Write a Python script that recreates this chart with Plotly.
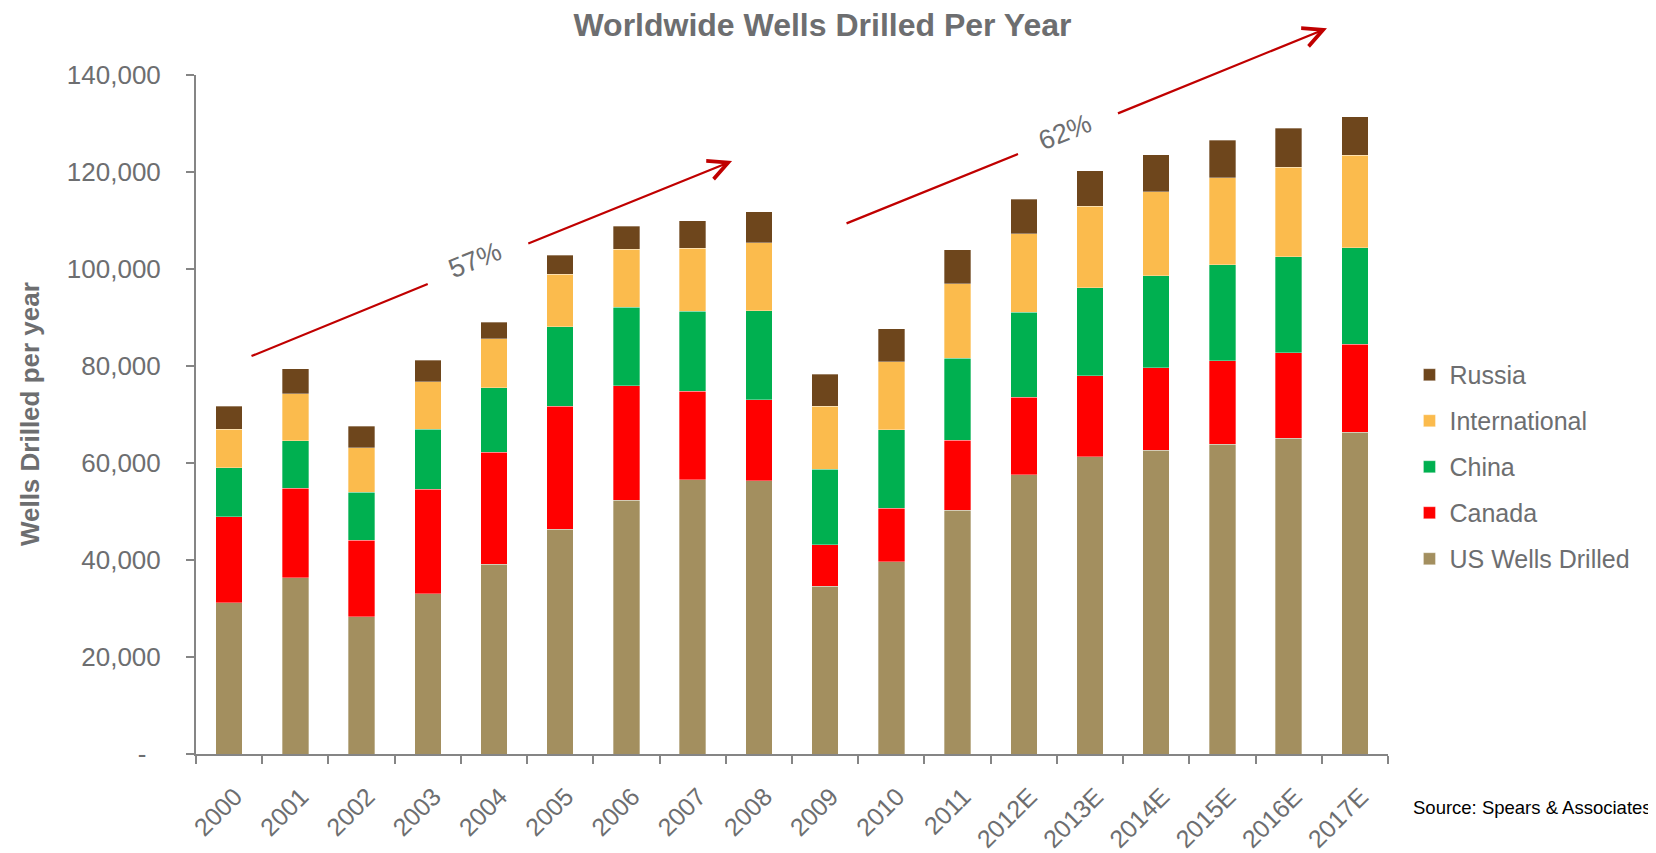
import plotly.graph_objects as go

# values (wells per year)
YEARS = ['2000', '2001', '2002', '2003', '2004', '2005', '2006', '2007', '2008',
         '2009', '2010', '2011', '2012E', '2013E', '2014E', '2015E', '2016E', '2017E']
US_WELLS = [31200, 36290, 28250, 33000, 39110, 46330, 52370, 56500, 56290,
            34640, 39590, 50310, 57590, 61240, 62620, 63860, 65150, 66390]
CANADA = [17730, 18490, 15810, 21590, 23090, 25360, 23510, 18290, 16770,
          8520, 11070, 14430, 15960, 16700, 16970, 17240, 17590, 18080]
CHINA = [10110, 9760, 9900, 12370, 13270, 16420, 16220, 16550, 18350,
         15600, 16150, 16910, 17520, 18210, 18970, 19730, 19800, 19920]
INTERNATIONAL = [7970, 9690, 9200, 9750, 10100, 10860, 11960, 12930, 14020,
                 12990, 14080, 15320, 16210, 16840, 17380, 17940, 18490, 19050]
RUSSIA = [4680, 5220, 4400, 4470, 3500, 3850, 4740, 5630, 6330,
          6600, 6740, 6950, 7090, 7280, 7570, 7770, 7980, 7970]

Y_TICKS = [0, 20000, 40000, 60000, 80000, 100000, 120000, 140000]
Y_TICK_TEXT = ['-\u00a0\u00a0', '20,000', '40,000', '60,000', '80,000',
               '100,000', '120,000', '140,000']

GROWTH_LABELS = ['57%', '62%']

FONT = 'Liberation Sans, Arial, sans-serif'
GRAY = '#6d6e70'
AXIS = '#858585'
RED = '#c00000'

series = [
    ('US Wells Drilled', US_WELLS, '#a38f5f'),
    ('Canada', CANADA, '#ff0000'),
    ('China', CHINA, '#00b050'),
    ('International', INTERNATIONAL, '#fbbb4d'),
    ('Russia', RUSSIA, '#6e461c'),
]

fig = go.Figure()
for i, (name, vals, color) in enumerate(series):
    fig.add_trace(go.Bar(
        x=YEARS, y=vals, name=name, legendgroup=name,
        legendrank=len(series) - i,  # Russia on top of the legend
        marker=dict(color=color, line=dict(width=0.8, color='rgba(255,255,255,0.4)')),
    ))

# growth arrows (domain fractions of the plot area): tail, gap start, gap end, tip
arrows = [
    [(0.0453, 0.5851), (0.1944, 0.6922), (0.2775, 0.7511), (0.4497, 0.8733)],
    [(0.5445, 0.7806), (0.6896, 0.8837), (0.7722, 0.9426), (0.9488, 1.0688)],
]
label_pos = [(0.2341, 0.7275), (0.7290, 0.9160)]

dom = dict(xref='x domain', yref='y domain', xanchor='center', yanchor='middle')
annotations = []
for pts, lab, lp in zip(arrows, GROWTH_LABELS, label_pos):
    (x0, y0), (x1, y1), (x2, y2), (x3, y3) = pts
    annotations.append(dict(
        **dom, axref='x domain', ayref='y domain',
        x=x1, y=y1, ax=x0, ay=y0, text='', showarrow=True, arrowhead=0,
        arrowwidth=2.2, arrowcolor=RED, standoff=0, startstandoff=0,
    ))
    annotations.append(dict(
        **dom, axref='x domain', ayref='y domain',
        x=x3, y=y3, ax=x2, ay=y2, text='', showarrow=True, arrowhead=5,
        arrowsize=1.75, arrowwidth=2.2, arrowcolor=RED, standoff=0, startstandoff=0,
    ))
    annotations.append(dict(
        **dom, x=lp[0], y=lp[1], text=lab,
        showarrow=False, textangle=-22, font=dict(family=FONT, size=27, color=GRAY),
    ))

annotations.append(dict(
    xref='paper', yref='paper', x=-0.1393, y=0.5005, text='<b>Wells Drilled per year</b>',
    textangle=-90, showarrow=False, xanchor='center', yanchor='middle',
    font=dict(family=FONT, size=26, color=GRAY),
))
annotations.append(dict(
    xref='paper', yref='paper', x=1.2232, y=-0.079, text='Source: Spears & Associates',
    showarrow=False, xanchor='right', yanchor='middle',
    font=dict(family=FONT, size=18.5, color='#000000'),
))

# the page body adds an 8px offset, so the figure is 8px smaller and margins shifted
fig.update_layout(
    width=1648, height=845,
    margin=dict(l=188, r=268, t=67, b=99),
    barmode='stack', bargap=0.6,
    plot_bgcolor='white', paper_bgcolor='white',
    font=dict(family=FONT, color=GRAY),
    title=dict(text='<b>Worldwide Wells Drilled Per Year</b>', x=0.4942, xref='container',
               xanchor='center', y=0.9799, yref='container', yanchor='middle',
               font=dict(family=FONT, size=32, color=GRAY)),
    legend=dict(x=1.018, xanchor='left', y=0.4227, yanchor='middle',
                traceorder='grouped', tracegroupgap=10.5,
                font=dict(family=FONT, size=25, color=GRAY), bgcolor='rgba(0,0,0,0)'),
    annotations=annotations,
    showlegend=True,
)
fig.update_xaxes(
    automargin=False,
    showline=True, linecolor=AXIS, linewidth=2, showgrid=False,
    ticks='outside', tickson='boundaries', ticklen=8, tickwidth=1.5, tickcolor=AXIS,
    tickangle=-45, ticklabelstandoff=16, ticklabelshift=6,
    tickfont=dict(family=FONT, size=25, color=GRAY),
)
fig.update_yaxes(
    automargin=False,
    range=[0, 140000], tickvals=Y_TICKS, ticktext=Y_TICK_TEXT,
    showline=True, linecolor=AXIS, linewidth=2, showgrid=False, zeroline=False,
    ticks='outside', ticklen=8, tickwidth=1.5, tickcolor=AXIS, ticklabelstandoff=20,
    tickfont=dict(family=FONT, size=26, color=GRAY),
)

fig.write_html('out.html')
